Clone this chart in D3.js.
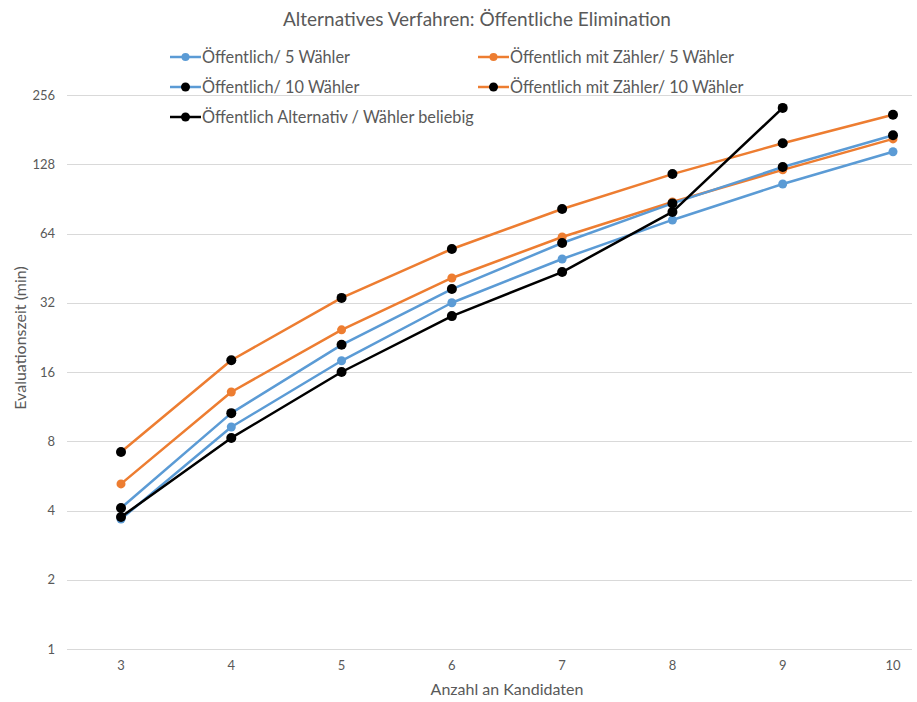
<!DOCTYPE html>
<meta charset="utf-8">
<style>
body { margin: 0; background: #fff; }
text { font-family: Lato, "Open Sans", sans-serif; fill: #595959; }
.grid line { stroke: #d9d9d9; stroke-width: 1; }
.series path { fill: none; stroke-width: 2.5; stroke-linejoin: round; }
</style>
<svg width="917" height="702"></svg>
<script src="https://d3js.org/d3.v7.min.js"></script>
<script>
// categories (Anzahl an Kandidaten)
var kandidaten = [3, 4, 5, 6, 7, 8, 9, 10];

// y tick labels (log2)
var yTicks = [1, 2, 4, 8, 16, 32, 64, 128, 256];

// series values (minutes)
var oeff5      = [3.67, 9.23, 17.9, 32.0, 49.6, 73.3, 105, 145];
var oeffZ5     = [5.22, 13.1, 24.4, 41.0, 61.8, 87.7, 121, 165];
var oeff10     = [4.1, 10.6, 21.0, 36.7, 58.2, 86.5, 124.5, 171];
var oeffZ10    = [7.18, 18.0, 33.6, 54.8, 81.8, 116, 158, 210];
var alternativ = [3.75, 8.27, 16.0, 28.0, 43.5, 79.4, 225];

var names = [
  "Öffentlich/ 5 Wähler",
  "Öffentlich mit Zähler/ 5 Wähler",
  "Öffentlich/ 10 Wähler",
  "Öffentlich mit Zähler/ 10 Wähler",
  "Öffentlich Alternativ / Wähler beliebig"
];

var blue = "#5b9bd5", orange = "#ed7d31", black = "#000";

var series = [
  {name: names[0], values: oeff5,      line: blue,   dot: blue},
  {name: names[1], values: oeffZ5,     line: orange, dot: orange},
  {name: names[2], values: oeff10,     line: blue,   dot: black},
  {name: names[3], values: oeffZ10,    line: orange, dot: black},
  {name: names[4], values: alternativ, line: black,  dot: black}
];

var svg = d3.select("svg");

var x = d3.scalePoint()
    .domain(kandidaten)
    .range([121, 893]);

var y = d3.scaleLog()
    .base(2)
    .domain([1, 256])
    .range([649, 95]);

// gridlines
svg.append("g")
    .attr("class", "grid")
  .selectAll("line")
  .data(yTicks)
  .enter().append("line")
    .attr("x1", 67)
    .attr("x2", 912)
    .attr("y1", function(d) { return Math.round(y(d)) + 0.5; })
    .attr("y2", function(d) { return Math.round(y(d)) + 0.5; });

// y axis labels
svg.append("g")
  .selectAll("text")
  .data(yTicks)
  .enter().append("text")
    .attr("x", 55)
    .attr("y", function(d) { return y(d); })
    .attr("dy", "0.35em")
    .attr("text-anchor", "end")
    .style("font-size", "13px")
    .text(function(d) { return d; });

// x axis labels
svg.append("g")
  .selectAll("text")
  .data(kandidaten)
  .enter().append("text")
    .attr("x", function(d) { return x(d); })
    .attr("y", 665)
    .attr("dy", "0.35em")
    .attr("text-anchor", "middle")
    .style("font-size", "13px")
    .text(function(d) { return d; });

// titles
svg.append("text")
    .attr("x", 477)
    .attr("y", 19)
    .attr("dy", "0.35em")
    .attr("text-anchor", "middle")
    .style("font-size", "19px")
    .text("Alternatives Verfahren: Öffentliche Elimination");

svg.append("text")
    .attr("x", 507)
    .attr("y", 689)
    .attr("dy", "0.35em")
    .attr("text-anchor", "middle")
    .style("font-size", "16px")
    .text("Anzahl an Kandidaten");

svg.append("text")
    .attr("transform", "translate(20,338) rotate(-90)")
    .attr("dy", "0.35em")
    .attr("text-anchor", "middle")
    .style("font-size", "16px")
    .text("Evaluationszeit (min)");

// lines and markers
var line = d3.line()
    .x(function(d, i) { return x(kandidaten[i]); })
    .y(function(d) { return y(d); });

var sg = svg.selectAll("g.series")
  .data(series)
  .enter().append("g")
    .attr("class", "series");

sg.append("path")
    .attr("stroke", function(d) { return d.line; })
    .attr("d", function(d) { return line(d.values); });

sg.each(function(s) {
  d3.select(this).selectAll("circle")
    .data(s.values)
    .enter().append("circle")
      .attr("cx", function(d, i) { return x(kandidaten[i]); })
      .attr("cy", function(d) { return y(d); })
      .attr("r", s.dot === black ? 5 : 4.5)
      .attr("fill", s.dot);
});

// legend
var legendPos = [
  {x: 170, y: 57}, {x: 478, y: 57},
  {x: 170, y: 87}, {x: 478, y: 87},
  {x: 170, y: 117}
];

var lg = svg.selectAll("g.legend")
  .data(series)
  .enter().append("g")
    .attr("class", "legend")
    .attr("transform", function(d, i) { return "translate(" + legendPos[i].x + "," + legendPos[i].y + ")"; });

lg.append("line")
    .attr("x1", 0)
    .attr("x2", 31)
    .attr("stroke", function(d) { return d.line; })
    .attr("stroke-width", 2.5);

lg.append("circle")
    .attr("cx", 15.5)
    .attr("r", function(d) { return d.dot === black ? 4.5 : 4; })
    .attr("fill", function(d) { return d.dot; });

lg.append("text")
    .attr("x", 32)
    .attr("dy", "0.35em")
    .style("font-size", "16.3px")
    .text(function(d) { return d.name; });
</script>
